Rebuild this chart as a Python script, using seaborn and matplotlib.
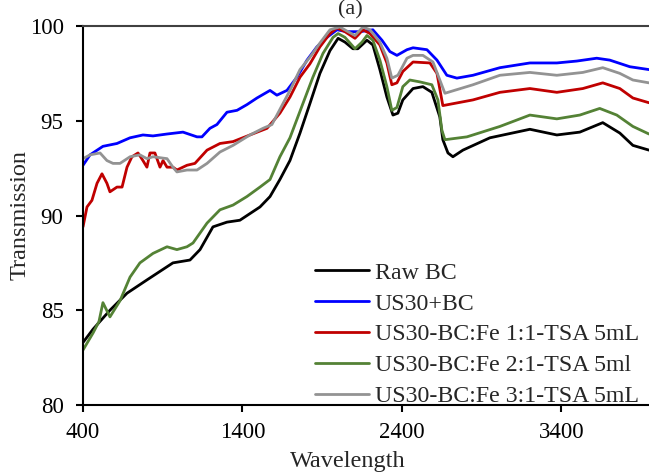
import matplotlib
matplotlib.use("Agg")
import matplotlib.pyplot as plt
import numpy as np
import pandas as pd
import seaborn as sns

# ---------------- data ----------------
labels = ["Raw BC", "US30+BC", "US30-BC:Fe 1:1-TSA 5mL",
          "US30-BC:Fe 2:1-TSA 5ml", "US30-BC:Fe 3:1-TSA 5mL"]
colors = ["#000000", "#0000FF", "#C00000", "#548235", "#939393"]

raw_x = [400, 463, 569, 676, 801, 964, 1071, 1134, 1215, 1303, 1384, 1510, 1573, 1635,
         1698, 1761, 1823, 1886, 1949, 2000, 2043, 2093, 2124, 2181, 2218, 2262, 2306,
         2344, 2375, 2406, 2470, 2532, 2588, 2638, 2657, 2689, 2720, 2783, 2952, 3203,
         3372, 3516, 3660, 3767, 3849, 3950]
raw_y = [83.3, 84.0, 85.0, 85.9, 86.6, 87.5, 87.65, 88.2, 89.4, 89.65, 89.75, 90.45, 91.0, 91.9,
         92.9, 94.35, 95.9, 97.5, 98.7, 99.35, 99.15, 98.8, 98.8, 99.25, 99.0, 97.7, 96.25,
         95.3, 95.4, 96.1, 96.7, 96.8, 96.5, 95.2, 94.0, 93.3, 93.1, 93.45, 94.1, 94.55,
         94.25, 94.4, 94.9, 94.35, 93.7, 93.45]

us_x = [400, 444, 525, 613, 695, 776, 839, 927, 1027, 1115, 1146, 1196, 1240, 1303, 1366,
        1428, 1491, 1573, 1616, 1679, 1742, 1805, 1867, 1930, 1993, 2055, 2137, 2218, 2275,
        2325, 2369, 2432, 2470, 2557, 2620, 2682, 2745, 2846, 3015, 3203, 3372, 3497, 3622,
        3704, 3830, 3950]
us_y = [92.65, 93.2, 93.65, 93.8, 94.1, 94.25, 94.2, 94.3, 94.4, 94.15, 94.15, 94.6, 94.8, 95.45, 95.55,
        95.85, 96.2, 96.6, 96.35, 96.6, 97.3, 98.2, 98.9, 99.4, 99.8, 99.7, 99.7, 99.8, 99.25,
        98.65, 98.45, 98.75, 98.85, 98.75, 98.2, 97.4, 97.25, 97.4, 97.8, 98.05, 98.05, 98.15, 98.3,
        98.2, 97.85, 97.7]

fe11_x = [400, 425, 456, 488, 519, 550, 569, 613, 645, 676, 707, 745, 776, 801, 820, 851, 883,
          902, 927, 964, 989, 1052, 1102, 1178, 1259, 1341, 1447, 1554, 1635, 1698, 1761, 1823,
          1886, 1949, 1993, 2043, 2106, 2156, 2200, 2262, 2306, 2337, 2369, 2406, 2470, 2576,
          2620, 2657, 2846, 3015, 3203, 3372, 3535, 3660, 3767, 3849, 3950]
fe11_y = [89.4, 90.45, 90.8, 91.7, 92.2, 91.7, 91.25, 91.5, 91.5, 92.55, 93.1, 93.3, 92.9, 92.55, 93.3, 93.3, 92.55,
          92.9, 92.55, 92.55, 92.4, 92.65, 92.75, 93.45, 93.8, 93.9, 94.25, 94.6, 95.4, 96.25, 97.3, 98.0,
          98.9, 99.6, 99.9, 99.7, 99.35, 99.8, 99.6, 99.0, 98.05, 96.9, 97.0, 97.6, 98.1, 98.05,
          97.5, 95.8, 96.1, 96.5, 96.7, 96.5, 96.7, 97.0, 96.7, 96.2, 95.95]

fe21_x = [400, 463, 500, 525, 569, 632, 695, 757, 839, 927, 989, 1052, 1090, 1178, 1259, 1341,
          1428, 1510, 1573, 1635, 1698, 1779, 1842, 1905, 1968, 2000, 2043, 2106, 2150, 2181,
          2218, 2262, 2306, 2337, 2369, 2406, 2450, 2513, 2588, 2626, 2651, 2670, 2808, 3015,
          3203, 3372, 3516, 3641, 3748, 3849, 3950]
fe21_y = [82.9, 83.8, 84.4, 85.4, 84.65, 85.5, 86.75, 87.5, 88.0, 88.35, 88.2, 88.35, 88.55, 89.6, 90.3, 90.55,
          91.0, 91.5, 91.9, 93.1, 94.1, 95.9, 97.3, 98.55, 99.4, 99.6, 99.4, 98.8, 99.15, 99.5,
          99.25, 98.2, 96.8, 95.55, 95.7, 96.8, 97.15, 97.05, 96.9, 96.1, 94.5, 94.0, 94.15, 94.7,
          95.3, 95.1, 95.3, 95.65, 95.3, 94.7, 94.3]

fe31_x = [400, 444, 507, 550, 588, 632, 695, 757, 801, 839, 927, 964, 989, 1052, 1115, 1178,
          1259, 1341, 1447, 1529, 1585, 1635, 1698, 1761, 1823, 1886, 1949, 2011, 2062, 2106,
          2156, 2200, 2262, 2306, 2337, 2375, 2432, 2470, 2532, 2595, 2638, 2670, 2846, 3015,
          3203, 3372, 3535, 3660, 3767, 3849, 3950]
fe31_y = [93.0, 93.2, 93.3, 92.9, 92.75, 92.75, 93.1, 93.2, 93.0, 93.1, 93.0, 92.55, 92.3, 92.4, 92.4, 92.75,
          93.35, 93.7, 94.25, 94.6, 94.8, 95.6, 96.6, 97.7, 98.35, 99.1, 99.8, 99.95, 99.7, 99.5,
          99.95, 99.8, 99.15, 98.3, 97.25, 97.4, 98.3, 98.45, 98.45, 98.1, 97.15, 96.45, 96.9, 97.4,
          97.55, 97.4, 97.55, 97.8, 97.5, 97.15, 97.0]

x_ticks = [400, 1400, 2400, 3400]
y_ticks = [80, 85, 90, 95, 100]

# ---------------- frame ----------------
xs = [raw_x, us_x, fe11_x, fe21_x, fe31_x]
ys = [raw_y, us_y, fe11_y, fe21_y, fe31_y]
df = pd.concat([pd.DataFrame({"Wavelength": x, "Transmission": y, "Sample": lab})
                for lab, x, y in zip(labels, xs, ys)], ignore_index=True)

sns.set_style("ticks")
plt.rcParams["font.family"] = ["Liberation Serif", "DejaVu Serif"]

W, H = 649, 475
fig = plt.figure(figsize=(W / 100, H / 100), dpi=100)
ax = fig.add_axes([83 / W, 70 / H, 566 / W, 379 / H])

sns.lineplot(data=df, x="Wavelength", y="Transmission", hue="Sample",
             hue_order=labels, palette=dict(zip(labels, colors)),
             estimator=None, sort=False, linewidth=2.0, ax=ax)

ax.set_xlim(400, 3950)
ax.set_ylim(80, 100)
ax.set_xticks(x_ticks)
ax.set_yticks(y_ticks)
ax.set_xlabel("")
ax.set_ylabel("")
ax.tick_params(axis="both", direction="out", length=5, width=1.5,
               labelsize=16.5, colors="black")
ax.tick_params(axis="x", pad=7)
ax.tick_params(axis="y", pad=9)

ax.spines["right"].set_visible(False)
ax.spines["top"].set_color("#404040")
ax.spines["top"].set_linewidth(1.5)
for s in ("left", "bottom"):
    ax.spines[s].set_color("black")
    ax.spines[s].set_linewidth(1.5)

handles, labs = ax.get_legend_handles_labels()
leg = ax.legend(handles, labs, loc="lower left",
                bbox_to_anchor=(315 / W, (H - 407) / H), bbox_transform=fig.transFigure,
                frameon=False, fontsize=17.2, handlelength=2.25, handletextpad=0.25,
                labelspacing=0.38, borderpad=0, borderaxespad=0)
for ln in leg.get_lines():
    ln.set_linewidth(2.0)

fig.text(348 / W, (H - 467) / H, "Wavelength", ha="center", va="baseline", fontsize=17.5)
fig.text(20 / W, (H - 215) / H, "Transmission", rotation=90, ha="center", va="center", fontsize=17.5)
fig.text(350 / W, 1.0, "(a)", ha="center", va="top", fontsize=16)

fig.savefig("out.png", dpi=100)
